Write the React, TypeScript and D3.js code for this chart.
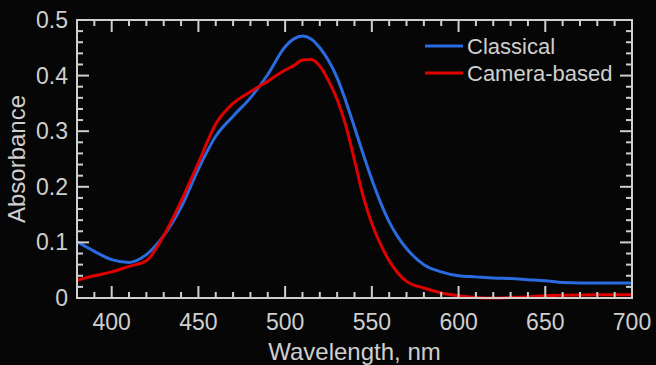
import React from "react";
import * as d3 from "d3";

const wavelengths = [380,390,400,410,420,430,440,450,460,470,480,490,500,505,510,515,520,525,530,535,540,545,550,555,560,565,570,580,590,600,610,620,630,640,650,660,680,700];
const classical = [0.101,0.084,0.069,0.064,0.078,0.112,0.163,0.232,0.291,0.327,0.360,0.402,0.452,0.466,0.471,0.466,0.450,0.427,0.396,0.354,0.307,0.259,0.213,0.172,0.137,0.110,0.089,0.060,0.047,0.040,0.038,0.036,0.035,0.033,0.031,0.028,0.027,0.027];
const camera = [0.032,0.040,0.047,0.057,0.067,0.112,0.174,0.243,0.313,0.350,0.371,0.390,0.410,0.418,0.428,0.429,0.417,0.391,0.357,0.310,0.248,0.183,0.134,0.097,0.067,0.045,0.030,0.018,0.009,0.004,0.001,0.000,0.001,0.002,0.004,0.005,0.006,0.006];
const xTicks = [400,450,500,550,600,650,700];
const yTicks = [0,0.1,0.2,0.3,0.4,0.5];
const seriesNames = ["Classical","Camera-based"];

const W = 656, H = 365;
const L = 77, R = 632, T = 20, B = 298;
const AX = "#cfcfcf";
const FONT = "'Liberation Sans', Arial, sans-serif";

export default function App() {
  const x = d3.scaleLinear().domain([380, 700]).range([L, R]);
  const y = d3.scaleLinear().domain([0, 0.5]).range([B, T]);
  const line = (vals: number[]) =>
    d3.line<number>().x((_, i) => x(wavelengths[i])).y(v => y(v)).curve(d3.curveMonotoneX)(vals) || "";
  const xMinor = d3.range(390, 700, 10).filter(v => v % 50 !== 0);
  const yMinor = d3.range(0.02, 0.5, 0.02).filter(v => Math.abs(v * 10 - Math.round(v * 10)) > 1e-6);
  const colors = ["#2b6be0", "#e00000"];
  return (
    <svg width={W} height={H} style={{ position: "absolute", left: 0, top: 0, background: "#060606" }}>
      <rect x={0} y={0} width={W} height={H} fill="#060606" />
      <defs>
        <clipPath id="plot"><rect x={L} y={T - 2} width={R - L} height={B - T + 4} /></clipPath>
      </defs>
      <g clipPath="url(#plot)">
        <path d={line(classical)} fill="none" stroke={colors[0]} strokeWidth={3} />
        <path d={line(camera)} fill="none" stroke={colors[1]} strokeWidth={3} />
      </g>
      {/* ticks */}
      <g stroke={AX} strokeWidth={2}>
        {xTicks.map(t => (
          <g key={"xt" + t}>
            <line x1={x(t)} x2={x(t)} y1={B} y2={B - 12} />
            <line x1={x(t)} x2={x(t)} y1={T} y2={T + 12} />
          </g>
        ))}
        {xMinor.map(t => (
          <g key={"xm" + t}>
            <line x1={x(t)} x2={x(t)} y1={B} y2={B - 6} />
            <line x1={x(t)} x2={x(t)} y1={T} y2={T + 6} />
          </g>
        ))}
        {yTicks.map(t => (
          <g key={"yt" + t}>
            <line x1={L} x2={L + 12} y1={y(t)} y2={y(t)} />
            <line x1={R} x2={R - 12} y1={y(t)} y2={y(t)} />
          </g>
        ))}
        {yMinor.map(t => (
          <g key={"ym" + t}>
            <line x1={L} x2={L + 6} y1={y(t)} y2={y(t)} />
            <line x1={R} x2={R - 6} y1={y(t)} y2={y(t)} />
          </g>
        ))}
      </g>
      <rect x={L} y={T} width={R - L} height={B - T} fill="none" stroke={AX} strokeWidth={2} />
      <g fill={AX} fontFamily={FONT} fontSize={23}>
        {xTicks.map(t => (
          <text key={"xl" + t} x={x(t)} y={B + 32} textAnchor="middle">{t}</text>
        ))}
        {yTicks.map(t => (
          <text key={"yl" + t} x={L - 9} y={y(t) + 8} textAnchor="end">{t === 0 ? "0" : t.toFixed(1)}</text>
        ))}
        <text x={(L + R) / 2 + 0} y={360} textAnchor="middle" fontSize={24}>Wavelength, nm</text>
        <text transform={`translate(25,${(T + B) / 2}) rotate(-90)`} textAnchor="middle" fontSize={24}>Absorbance</text>
      </g>
      <g fontFamily={FONT} fontSize={22} fill={AX}>
        {seriesNames.map((n, i) => (
          <g key={n}>
            <line x1={425} x2={463} y1={46 + i * 27} y2={46 + i * 27} stroke={colors[i]} strokeWidth={3} />
            <text x={467} y={54 + i * 27}>{n}</text>
          </g>
        ))}
      </g>
    </svg>
  );
}
